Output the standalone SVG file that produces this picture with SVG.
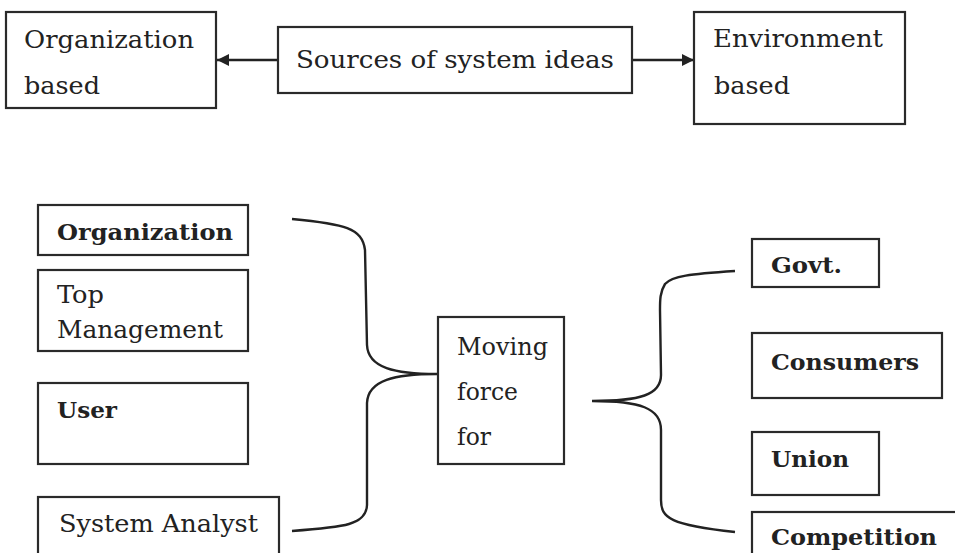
<svg xmlns="http://www.w3.org/2000/svg" width="955" height="553" viewBox="0 0 955 553">
<style>
.box{fill:#fff;stroke:#2a2a2a;stroke-width:2.2}
.t{font-family:"DejaVu Serif","Liberation Serif",serif;font-size:24px;fill:#222}
.b{font-family:"DejaVu Serif","Liberation Serif",serif;font-size:23px;font-weight:bold;fill:#222}
.c{fill:none;stroke:#222;stroke-width:2.4}
</style>
<defs>
<marker id="ah" viewBox="0 0 10 10" refX="10" refY="5" markerWidth="5" markerHeight="5" orient="auto" markerUnits="strokeWidth">
<path d="M0,0 L10,5 L0,10 Z" fill="#222"/>
</marker>
</defs>
<rect width="955" height="553" fill="#fff"/>
<g id="connectors">
<line class="c" x1="278" y1="60" x2="217" y2="60" marker-end="url(#ah)"/>
<line class="c" x1="632" y1="60" x2="694" y2="60" marker-end="url(#ah)"/>
<path class="c" d="M292,219 C345,224 362,228 365,250 L367,345 C368,368 395,374 437,374 C395,374 368,380 367,403 L367,505 C366,525 345,527 292,531"/>
<path class="c" d="M735,271 C690,274 672,276 665,284 C660,292 660,300 660,310 L661,375 C661,395 640,401 592,401 C640,401 661,408 661,430 L661,500 C661,518 670,525 735,532"/>
</g>
<g id="org-based">
<rect class="box" x="6" y="12" width="210" height="96"/>
<text class="t" x="24" y="48" textLength="170" lengthAdjust="spacingAndGlyphs">Organization</text>
<text class="t" x="24" y="94" textLength="76" lengthAdjust="spacingAndGlyphs">based</text>
</g>
<g id="sources">
<rect class="box" x="278" y="27" width="354" height="66"/>
<text class="t" x="296" y="68" textLength="318" lengthAdjust="spacingAndGlyphs">Sources of system ideas</text>
</g>
<g id="env-based">
<rect class="box" x="694" y="12" width="211" height="112"/>
<text class="t" x="713" y="47" textLength="170" lengthAdjust="spacingAndGlyphs">Environment</text>
<text class="t" x="714" y="94" textLength="76" lengthAdjust="spacingAndGlyphs">based</text>
</g>
<g id="organization">
<rect class="box" x="38" y="205" width="210" height="50"/>
<text class="b" x="57" y="240" textLength="176" lengthAdjust="spacingAndGlyphs">Organization</text>
</g>
<g id="top-management">
<rect class="box" x="38" y="270" width="210" height="81"/>
<text class="t" x="57" y="303" textLength="47" lengthAdjust="spacingAndGlyphs">Top</text>
<text class="t" x="57" y="338" textLength="166" lengthAdjust="spacingAndGlyphs">Management</text>
</g>
<g id="user">
<rect class="box" x="38" y="383" width="210" height="81"/>
<text class="b" x="57" y="418" textLength="60" lengthAdjust="spacingAndGlyphs">User</text>
</g>
<g id="system-analyst">
<rect class="box" x="38" y="497" width="241" height="70"/>
<text class="t" x="59" y="532" textLength="199" lengthAdjust="spacingAndGlyphs">System Analyst</text>
</g>
<g id="moving-force">
<rect class="box" x="438" y="317" width="126" height="147"/>
<text class="t" x="457" y="355" textLength="91" lengthAdjust="spacingAndGlyphs">Moving</text>
<text class="t" x="457" y="400" textLength="61" lengthAdjust="spacingAndGlyphs">force</text>
<text class="t" x="457" y="445" textLength="34" lengthAdjust="spacingAndGlyphs">for</text>
</g>
<g id="govt">
<rect class="box" x="752" y="239" width="127" height="48"/>
<text class="b" x="771" y="273" textLength="71" lengthAdjust="spacingAndGlyphs">Govt.</text>
</g>
<g id="consumers">
<rect class="box" x="752" y="333" width="190" height="65"/>
<text class="b" x="771" y="370" textLength="148" lengthAdjust="spacingAndGlyphs">Consumers</text>
</g>
<g id="union">
<rect class="box" x="752" y="432" width="127" height="63"/>
<text class="b" x="771" y="467" textLength="78" lengthAdjust="spacingAndGlyphs">Union</text>
</g>
<g id="competition">
<rect class="box" x="752" y="512" width="210" height="60"/>
<text class="b" x="771" y="545" textLength="166" lengthAdjust="spacingAndGlyphs">Competition</text>
</g>
</svg>
